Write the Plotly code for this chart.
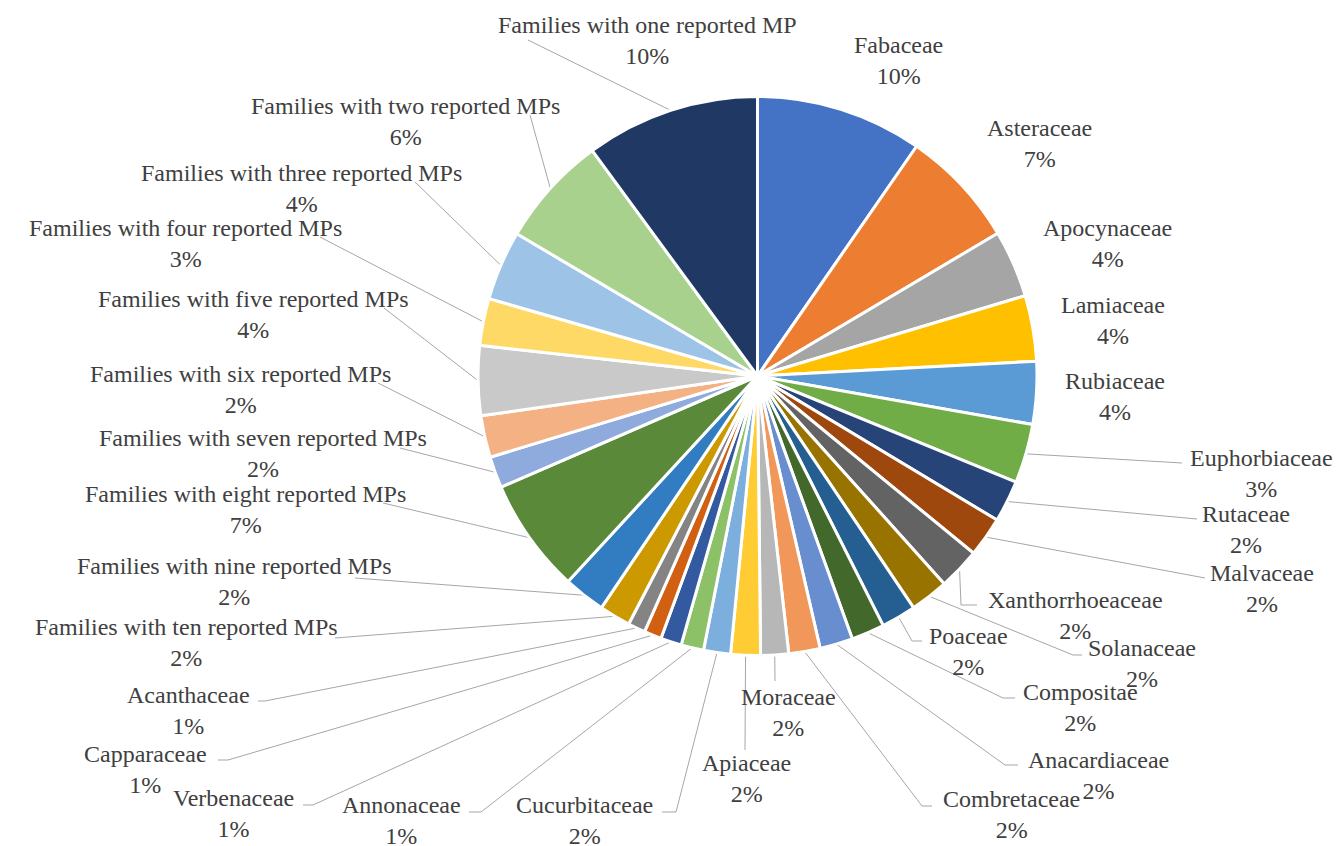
import math
import plotly.graph_objects as go

# ---------------- data ----------------
labels = [
    "Fabaceae", "Asteraceae", "Apocynaceae", "Lamiaceae", "Rubiaceae",
    "Euphorbiaceae", "Rutaceae", "Malvaceae", "Xanthorrhoeaceae", "Solanaceae",
    "Poaceae", "Compositae", "Anacardiaceae", "Combretaceae", "Moraceae",
    "Apiaceae", "Cucurbitaceae", "Annonaceae", "Verbenaceae", "Capparaceae",
    "Acanthaceae",
    "Families with ten reported MPs", "Families with nine reported MPs",
    "Families with eight reported MPs", "Families with seven reported MPs",
    "Families with six reported MPs", "Families with five reported MPs",
    "Families with four reported MPs", "Families with three reported MPs",
    "Families with two reported MPs", "Families with one reported MP",
]
values = [9.58, 6.78, 3.87, 3.77, 3.6, 3.4, 2.4, 2.3, 2.4, 2.2,
          2.0, 1.9, 1.9, 1.8, 1.6, 1.7, 1.55, 1.3, 1.2, 1.0,
          1.0, 1.8, 2.4, 6.6, 1.8, 2.4, 4.0, 2.7, 4.0, 6.4, 10.0]

colors = ["#4472C4", "#ED7D31", "#A5A5A5", "#FFC000", "#5B9BD5", "#70AD47",
          "#264478", "#9E480E", "#636363", "#997300", "#255E91", "#43682B",
          "#698ED0", "#F1975A", "#B7B7B7", "#FFCD33", "#7CAFDD", "#8CC168",
          "#335AA1", "#D26012", "#848484", "#CC9A00", "#327DC2", "#5A8A39",
          "#8FAADC", "#F4B183", "#C9C9C9", "#FFD966", "#9DC3E6", "#A9D18E",
          "#203864"]

# ---------------- layout (pixel positions of labels / leader bends) ----------------
W, H = 1344, 846
CX, CY, R = 757.5, 376.0, 279.5

label_centers = [
    (898, 60), (1039, 143), (1107, 243), (1113, 320), (1115, 396),
    (1261, 473), (1246, 529), (1262, 588), (1075, 615), (1142, 663),
    (968, 651), (1080, 707), (1098, 775), (1011, 814), (788, 712),
    (746, 778), (584, 820), (401, 820), (233, 813), (145, 769),
    (188, 710), (186, 642), (234, 581), (245, 509), (263, 453),
    (240, 389), (253, 314), (185, 243), (301, 188), (405, 121),
    (647, 40),
]
leader_points = [
    None, None, None, None, None,
    [(1182, 463)], [(1197, 519)], [(1205, 578)],
    [(961, 605), (977, 605)], [(1073, 655), (1082, 655)],
    [(912, 641), (922, 641)], [(1003, 698), (1015, 698)],
    [(1005, 765), (1018, 765)], [(922, 806), (932, 806)],
    [(775, 681)], [(745, 750)],
    [(676, 812), (662, 812)], [(481, 812), (469, 812)],
    [(313, 805), (303, 805)], [(228, 760), (218, 760)],
    [(265, 701), (258, 701)],
    [(335, 638)], [(355, 578)], [(383, 503)], [(400, 448)],
    [(378, 383)], [(384, 308)], [(320, 237)], [(415, 182)],
    [(530, 115)], [(528, 40)],
]

FONT = "Liberation Serif"
TEXT_COLOR = "#404040"
LINE_COLOR = "#A6A6A6"

total = sum(values)

fig = go.Figure()
fig.add_trace(go.Pie(
    labels=labels, values=values, sort=False, direction="clockwise",
    rotation=0, textinfo="none", hoverinfo="label+percent",
    marker=dict(colors=colors, line=dict(color="white", width=3)),
    domain=dict(x=[(CX - R) / W, (CX + R) / W],
                y=[1 - (CY + R) / H, 1 - (CY - R) / H]),
    showlegend=False,
))

# leader lines: from slice rim (mid angle from data) to label
lx, ly = [], []
cum = 0.0
for v, pts in zip(values, leader_points):
    mid = (cum + v / 2) / total * 2 * math.pi
    cum += v
    if pts is None:
        continue
    rx = CX + R * math.sin(mid)
    ry = CY - R * math.cos(mid)
    lx += [rx] + [p[0] for p in pts] + [None]
    ly += [ry] + [p[1] for p in pts] + [None]

fig.add_trace(go.Scatter(x=lx, y=ly, mode="lines",
                         line=dict(color=LINE_COLOR, width=1),
                         hoverinfo="skip", showlegend=False,
                         xaxis="x", yaxis="y"))

annotations = []
for name, v, (px, py) in zip(labels, values, label_centers):
    pct = int(v / total * 100 + 0.5)
    annotations.append(dict(
        x=px, y=py, xref="x", yref="y", text=f"{name}<br>{pct}%",
        showarrow=False, xanchor="center", yanchor="middle", align="center",
        font=dict(family=FONT, size=24, color=TEXT_COLOR)))

fig.update_layout(
    width=W, height=H, margin=dict(l=0, r=0, t=0, b=0),
    paper_bgcolor="white", plot_bgcolor="rgba(0,0,0,0)",
    xaxis=dict(range=[0, W], visible=False, domain=[0, 1], fixedrange=True),
    yaxis=dict(range=[H, 0], visible=False, domain=[0, 1], fixedrange=True),
    annotations=annotations,
)

fig.write_html("out.html", config={"displayModeBar": False},
               post_script="document.body.style.margin='0';")
